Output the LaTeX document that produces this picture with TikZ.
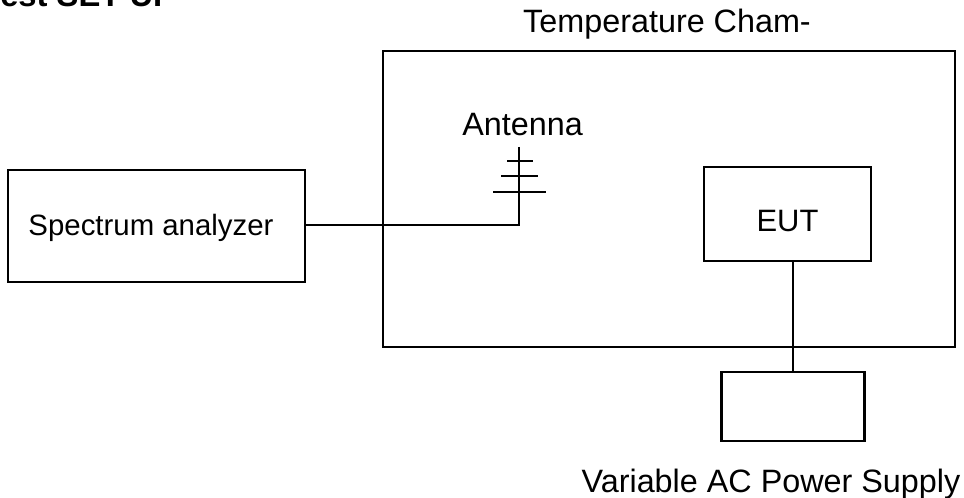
\documentclass[tikz,border=0pt]{standalone}
\usepackage{fontspec}
\setmainfont{Liberation Sans}
\tikzset{
    unitbox/.style={draw, line width=1.5pt, inner sep=0pt},
    wire/.style={line width=1.4pt},
    caption/.style={font=\fontsize{23}{27}\selectfont, inner sep=0pt, anchor=base}
}

\begin{document}
\begin{tikzpicture}[x=0.025cm, y=-0.025cm]
    \useasboundingbox (0, 0) rectangle (964, 498);

    % Title, cut off by the page edge
    \node[anchor=base west, inner sep=0pt, font=\fontsize{23.3}{27}\bfseries] (title) at (0, 7) {est SET-UP};

    % Temperature chamber
    \node[unitbox, minimum width=14.3cm, minimum height=7.4cm] (chamber) at (669, 199) {};
    \node[caption] (chamberlabel) at (667, 33) {Temperature Cham-};

    % Spectrum analyzer
    \node[unitbox, minimum width=7.425cm, minimum height=2.79cm] (analyzer) at (156.8, 225.8) {};
    \node[caption, font=\fontsize{20.9}{25}\selectfont] (analyzerlabel) at (151, 236) {Spectrum analyzer};

    % EUT
    \node[unitbox, minimum width=4.175cm, minimum height=2.35cm] (eut) at (787.5, 214) {};
    \node[caption, font=\fontsize{22}{26}\selectfont] (eutlabel) at (787.5, 232) {EUT};

    % Power supply
    \node[unitbox, line width=1.9pt, minimum width=3.575cm, minimum height=1.725cm] (supply) at (793.3, 406.5) {};
    \node[caption] (supplylabel) at (771, 492) {Variable AC Power Supply};

    % Antenna
    \node[caption] (antennalabel) at (522.5, 136) {Antenna};
    \coordinate (top) at (519, 147);
    \coordinate (bend) at (519, 225);
    \draw[wire] (top) -- (bend) -- (bend -| analyzer.east);
    \coordinate (bar1l) at (507, 161);
    \coordinate (bar1r) at (532.7, 161);
    \coordinate (bar2l) at (501, 176);
    \coordinate (bar2r) at (538, 176);
    \coordinate (bar3l) at (493, 192);
    \coordinate (bar3r) at (545.7, 192);
    \draw[wire] (bar1l) -- (bar1r);
    \draw[wire] (bar2l) -- (bar2r);
    \draw[wire] (bar3l) -- (bar3r);

    % Supply line
    \draw[wire] (supply.north) -- (supply.north |- eut.south);
\end{tikzpicture}
\end{document}
